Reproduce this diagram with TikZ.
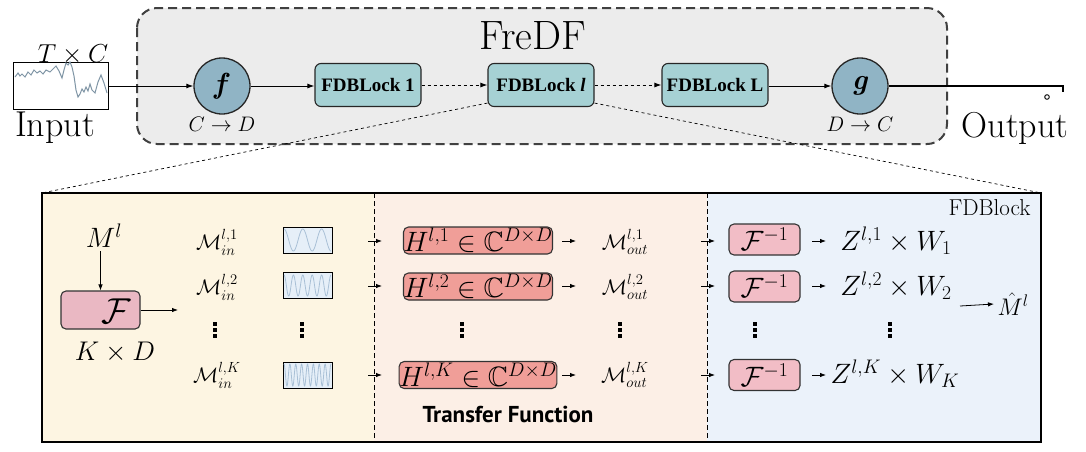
\RequirePackage{fix-cm}
\documentclass[tikz,border=0pt]{standalone}
\usepackage{amsmath,amssymb}
\usepackage{fontspec}
\newfontfamily\tffont{PT Sans}
\newfontfamily\fdbfont{Liberation Serif}
\usetikzlibrary{arrows.meta}
\newcommand{\fsz}[1]{\fontsize{#1}{#1}\selectfont}
\definecolor{outerfill}{HTML}{ECECEC}
\definecolor{circfill}{HTML}{90B4C5}
\definecolor{fdbfill}{HTML}{A6D1D4}
\definecolor{leftfill}{HTML}{FDF5E2}
\definecolor{midfill}{HTML}{FCEFE6}
\definecolor{rightfill}{HTML}{EBF2FA}
\definecolor{ffill}{HTML}{EAB8C3}
\definecolor{hfill}{HTML}{F09E98}
\definecolor{finvfill}{HTML}{F2BDC6}
\definecolor{wavefill}{HTML}{E6EFF8}
\definecolor{wavecol}{HTML}{A9C0D6}
\definecolor{sigcol}{HTML}{7F95A5}
\tikzset{
  arr/.style={-{Latex[length=7pt,width=5pt]},line width=1pt},
  sarr/.style={-{Latex[length=6pt,width=4.5pt]},line width=0.8pt},
  circ/.style={circle,draw=black!85,line width=1.3pt,fill=circfill,minimum size=56pt,inner sep=0pt},
  fdb/.style={draw=black!85,line width=1.1pt,fill=fdbfill,rounded corners=6pt,minimum width=106pt,minimum height=43pt,inner sep=0pt,font=\fsz{19}\fdbfont\bfseries},
  pinkbox/.style={draw=black!80,line width=1.1pt,rounded corners=5pt,inner sep=0pt},
  wavebox/.style={draw=black,line width=0.9pt,fill=wavefill,minimum width=49pt,minimum height=26pt,inner sep=0pt},
  vdot/.pic={\foreach \k in {-6,0,6} \fill (-1.8,\k-1.8) rectangle (1.8,\k+1.8);},
}
\begin{document}
\begin{tikzpicture}[x=1pt,y=-1pt]
\useasboundingbox (0,0) rectangle (1086,451);
\fill[white] (0,0) rectangle (1086,451);
% outer FreDF frame
\draw[draw=black!75,fill=outerfill,line width=2pt,dash pattern=on 9pt off 5pt,rounded corners=20pt] (137,8) rectangle (947,144);
\node (title) at (533,36) {\fsz{41}FreDF};
% input
\node[draw=black,line width=1pt,fill=white,minimum width=95pt,minimum height=47pt,inner sep=0pt] (in) at (60.5,85.5) {};
\draw[sigcol,line width=1pt] (15,77) -- (18,73) -- (20,76) -- (22,74) -- (25,77) -- (28,72) -- (31,75) -- (34,70) -- (37,73) -- (40,71) -- (43,74) -- (46,70) -- (50,72) -- (53,69) -- (56,66) -- (59,71) -- (62,78) -- (64,70) -- (66,63) -- (68,65) -- (70,62) -- (72,67) -- (74,76) -- (76,90) -- (78,97) -- (80,94) -- (82,89) -- (84,92) -- (86,87) -- (88,91) -- (90,84) -- (92,90) -- (95,93) -- (98,82) -- (101,75) -- (104,83) -- (107,93);
\node[anchor=base] (tc) at (73,62) {\fsz{26}$T\times C$};
\node[anchor=base] (inlbl) at (55,136) {\fsz{36}Input};
% main chain
\node[circ] (f) at (222,86) {\fsz{29}\textbf{\textit{f}}};
\node (cd) at (222,124) {\fsz{21}$C\to D$};
\node[fdb] (b1) at (368,85) {FDBLock 1};
\node[fdb] (bl) at (541,85) {FDBLock \textit{l}};
\node[fdb] (bL) at (715,85) {FDBLock L};
\node[circ] (g) at (860,86) {\fsz{29}\textbf{\textit{g}}};
\node (dc) at (860,124) {\fsz{21}$D\to C$};
\draw[arr] (in.east |- f) -- (f);
\draw[arr] (f) -- (b1.west |- f);
\draw[arr,dashed] (b1) -- (bl);
\draw[arr,dashed] (bl) -- (bL);
\draw[arr] (bL.east |- g) -- (g);
% output
\fill[white] (962,40) rectangle (1072,112);
\coordinate (oe) at (1063,86);
\draw[line width=1.4pt] (g) -- (oe) -- ++(0,6);
\draw[line width=0.9pt] (1047,97) circle (2.3pt);
\node[anchor=base] (outlbl) at (1015,137) {\fsz{36}Output};
% zoom lines
\coordinate (zl) at (42,193);
\coordinate (zr) at (1041,193);
\draw[dashed,line width=0.7pt] (bl.south west) ++(0,-4) -- (zl);
\draw[dashed,line width=0.7pt] (bl.south east) ++(0,-4) -- (zr);
% bottom block
\fill[leftfill] (42,193) rectangle (374,442);
\fill[midfill] (374,193) rectangle (707,442);
\fill[rightfill] (707,193) rectangle (1041,442);
\draw[line width=1.1pt] (42,193) rectangle (1041,442);
\draw[dash pattern=on 5pt off 3pt,line width=0.7pt] (374,193) -- (374,442);
\draw[dash pattern=on 5pt off 3pt,line width=0.7pt] (707,193) -- (707,442);
\node[anchor=base east] (fdblbl) at (1034,215) {\fsz{23}FDBlock};
% left section
\node (Ml) at (104,236) {\fsz{28}$M^{l}$};
\node[pinkbox,fill=ffill,minimum width=79pt,minimum height=38pt] (Fb) at (100.5,310) {};
\node (Ftxt) at (116,311) {\fsz{36}$\mathcal{F}$};
\coordinate (fo) at (178,310);
\draw[sarr] (Fb.north |- Ml.south) -- (Fb.north);
\draw[sarr] (Fb.east) -- (fo);
\node (KD) at (115,352) {\fsz{27}$K\times D$};
\node (mi1) at (217,242) {\fsz{21}$\mathcal{M}_{in}^{l,1}$};
\node (mi2) at (217,287) {\fsz{21}$\mathcal{M}_{in}^{l,2}$};
\pic at (215,330) {vdot};
\node (miK) at (217,375) {\fsz{21}$\mathcal{M}_{in}^{l,K}$};
\node[wavebox] (w1) at (307.5,240) {};
\node[wavebox] (w2) at (307.5,285.5) {};
\pic at (302,330) {vdot};
\node[wavebox] (wK) at (307.5,375) {};
\draw[wavecol,line width=0.8pt] plot[domain=0:47,samples=120] ({284+\x},{240-11*cos(\x/47*2.5*360)});
\draw[wavecol,line width=0.8pt] plot[domain=0:47,samples=160] ({284+\x},{285.5-10.5*cos(\x/47*5*360)});
\draw[wavecol,line width=0.8pt] plot[domain=0:47,samples=220] ({284+\x},{375-11*cos(\x/47*8*360)});
% arrows across first divider
\foreach \yy/\nm in {241/a1,286/a2,375/aK}{
  \coordinate (\nm s) at (368,\yy);
  \coordinate (\nm e) at (382,\yy);
  \draw[sarr] (\nm s) -- (\nm e);
}
% middle section
\node[pinkbox,fill=hfill,minimum width=148pt,minimum height=27pt] (H1) at (478,240.5) {\fsz{28}$H^{l,1}\in\mathbb{C}^{D\times D}$};
\node[pinkbox,fill=hfill,minimum width=148pt,minimum height=27pt] (H2) at (478,286.5) {\fsz{28}$H^{l,2}\in\mathbb{C}^{D\times D}$};
\pic at (462,330) {vdot};
\node[pinkbox,fill=hfill,minimum width=148pt,minimum height=27pt] (HK) at (478,375) {\fsz{28}$H^{l,K}\in\mathbb{C}^{D\times D}$};
\node (mo1) at (625,242) {\fsz{21}$\mathcal{M}_{out}^{l,1}$};
\node (mo2) at (625,287) {\fsz{21}$\mathcal{M}_{out}^{l,2}$};
\pic at (620,330) {vdot};
\node (moK) at (625,375) {\fsz{21}$\mathcal{M}_{out}^{l,K}$};
\foreach \yy/\nm in {241/b1,286/b2,375/bK}{
  \coordinate (\nm s) at (562,\yy);
  \coordinate (\nm e) at (576,\yy);
  \draw[sarr] (\nm s) -- (\nm e);
}
\node (tf) at (508,414) {\fsz{23}\tffont\bfseries Transfer Function};
% arrows across second divider
\foreach \yy/\nm in {241/c1,286/c2,375/cK}{
  \coordinate (\nm s) at (701,\yy);
  \coordinate (\nm e) at (715,\yy);
  \draw[sarr] (\nm s) -- (\nm e);
}
% right section
\node[pinkbox,fill=finvfill,minimum width=71pt,minimum height=31pt] (Fi1) at (764.5,239.5) {\fsz{28}$\mathcal{F}^{-1}$};
\node[pinkbox,fill=finvfill,minimum width=71pt,minimum height=31pt] (Fi2) at (764.5,286.5) {\fsz{28}$\mathcal{F}^{-1}$};
\pic at (755,330) {vdot};
\node[pinkbox,fill=finvfill,minimum width=71pt,minimum height=31pt] (FiK) at (764.5,375) {\fsz{28}$\mathcal{F}^{-1}$};
\foreach \yy/\nm in {241/d1,286/d2,375/dK}{
  \coordinate (\nm s) at (812,\yy);
  \coordinate (\nm e) at (826,\yy);
  \draw[sarr] (\nm s) -- (\nm e);
}
\node (Z1) at (896,241) {\fsz{28}$Z^{l,1}\times W_1$};
\node (Z2) at (896,286) {\fsz{28}$Z^{l,2}\times W_2$};
\pic at (890,330) {vdot};
\node (ZK) at (895,374) {\fsz{28}$Z^{l,K}\times W_K$};
\coordinate (hs) at (960,306);
\node (Mhat) at (1013,304) {\fsz{24}$\hat{M}^{l}$};
\draw[sarr] (hs) -- (Mhat.west);
\end{tikzpicture}
\end{document}
